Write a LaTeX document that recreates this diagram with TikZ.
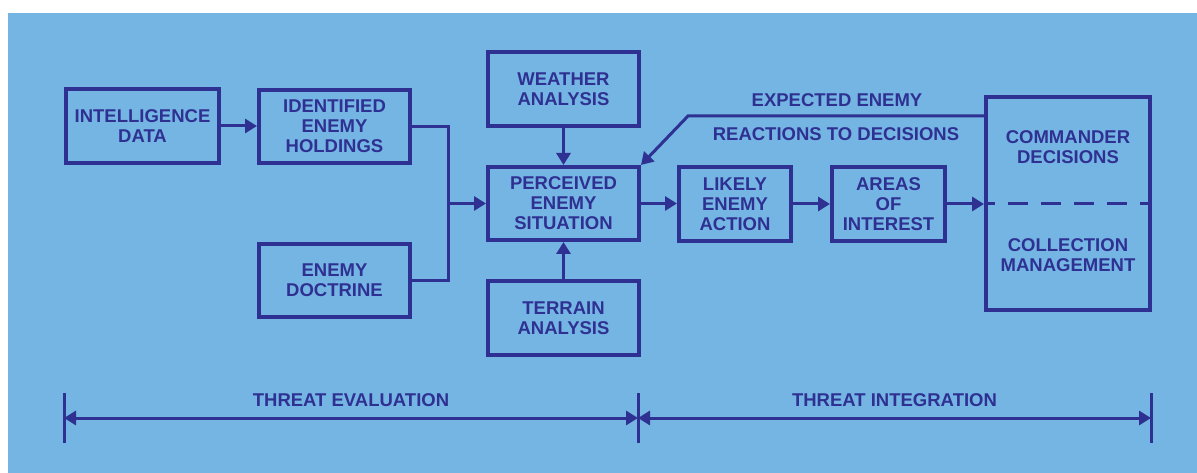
\documentclass[tikz,border=0pt]{standalone}
\usepackage{fontspec}
\setmainfont{Liberation Sans}
\usetikzlibrary{arrows.meta}
\definecolor{skyfill}{RGB}{117,181,227}
\definecolor{inkblue}{RGB}{46,49,146}
\begin{document}
\begin{tikzpicture}[x=1pt,y=-1pt,
  every node/.style={text=inkblue,font=\fontsize{18.5}{20}\selectfont\bfseries,
    align=center,inner sep=0pt},
  box/.style={draw=inkblue,line width=4pt},
  link/.style={draw=inkblue,line width=3pt},
  tip/.style={-{Triangle[length=12pt,width=14pt]}},
  arr/.style={link,tip},
  twoway/.style={link,{Triangle[length=12pt,width=14pt]}-{Triangle[length=12pt,width=14pt]}}]

% page and panel
\useasboundingbox (0,0) rectangle (1197,473);
\fill[white] (0,0) rectangle (1197,473);
\fill[skyfill] (8,13) rectangle (1197,473);

% process boxes
\node[box,minimum width=153pt,minimum height=74pt] (intel) at (142.5,126) {INTELLIGENCE\\DATA};
\node[box,minimum width=151pt,minimum height=73pt] (ident) at (334.5,126.5) {IDENTIFIED\\ENEMY\\HOLDINGS};
\node[box,minimum width=151pt,minimum height=73pt] (doctrine) at (334.5,280.5) {ENEMY\\DOCTRINE};
\node[box,minimum width=151pt,minimum height=74pt] (weather) at (563.5,89) {WEATHER\\ANALYSIS};
\node[box,minimum width=151pt,minimum height=73pt] (perceived) at (563.5,203.5) {PERCEIVED\\ENEMY\\SITUATION};
\node[box,minimum width=151pt,minimum height=74pt] (terrain) at (563.5,318) {TERRAIN\\ANALYSIS};
\node[box,minimum width=112pt,minimum height=74pt] (likely) at (735,204) {LIKELY\\ENEMY\\ACTION};
\node[box,minimum width=113pt,minimum height=74pt] (areas) at (888.5,204) {AREAS\\OF\\INTEREST};
\node[box,minimum width=164pt,minimum height=213pt] (commander) at (1068,203.5) {};
\node (cmdtext) at (1068,147) {COMMANDER\\DECISIONS};
\node (colltext) at (1068,255) {COLLECTION\\MANAGEMENT};

% flow connectors
\draw[arr] (intel.east) -- (intel.east -| ident.west);
\coordinate (join) at (448,203.5);
\draw[link] (ident.east) -| (join) |- (doctrine.east);
\draw[arr] (join) -- (perceived.west);
\draw[arr] (weather.south) -- (perceived.north);
\draw[arr] (terrain.north) -- (perceived.south);
\draw[arr] (perceived.east) -- (perceived.east -| likely.west);
\draw[arr] (likely.east) -- (likely.east -| areas.west);
\draw[arr] (areas.east) -- (areas.east -| commander.west);

% split inside the commander box
\draw[link,dash pattern=on 20pt off 13pt,dash phase=9pt] (commander.west) -- (commander.east);

% feedback from the commander
\coordinate (bend) at (688,116);
\draw[arr] (commander.west |- bend) -- (bend) -- (perceived.north east);
\node (expected) at (837,100) {EXPECTED ENEMY};
\node (reactions) at (836,134) {REACTIONS TO DECISIONS};

% phase scale
\coordinate (tl) at (64,418);
\coordinate (tm) at (638,418);
\coordinate (tr) at (1151,418);
\draw[link] (tl) ++(0,-25) -- ++(0,50);
\draw[link] (tm) ++(0,-25) -- ++(0,50);
\draw[link] (tr) ++(0,-25) -- ++(0,50);
\draw[twoway] (tl) -- (tm);
\draw[twoway] (tm) -- (tr);
\node (evaluation) at (351,400) {THREAT EVALUATION};
\node (integration) at (894.5,400) {THREAT INTEGRATION};
\end{tikzpicture}
\end{document}
